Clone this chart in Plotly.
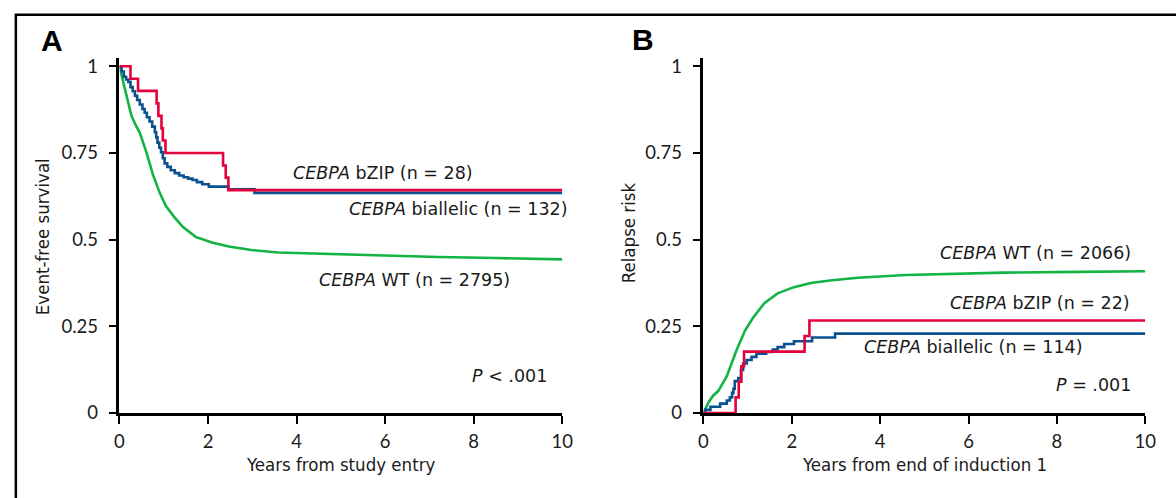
import plotly.graph_objects as go

W, H = 1176, 498

# ---------------- data ----------------
# Panel A: event-free survival
A_bzip_t = [0, 0.25, 0.42, 0.84, 0.88, 0.95, 0.98, 1.04, 2.34, 2.40, 2.46, 10]
A_bzip_s = [1.0, 0.964, 0.929, 0.893, 0.857, 0.821, 0.786, 0.75, 0.714, 0.679, 0.643, 0.643]

A_bi_t = [0, 0.05, 0.1, 0.15, 0.2, 0.25, 0.3, 0.35, 0.4, 0.46, 0.52, 0.57, 0.62, 0.68,
          0.74, 0.80, 0.83, 0.86, 0.9, 0.94, 0.98, 1.02, 1.08, 1.16, 1.25, 1.35, 1.45,
          1.55, 1.65, 1.75, 1.87, 2.02, 2.46, 3.05, 10]
A_bi_s = [1, 0.985, 0.97, 0.962, 0.955, 0.94, 0.928, 0.915, 0.903, 0.89, 0.877, 0.866,
          0.853, 0.841, 0.826, 0.81, 0.795, 0.78, 0.765, 0.752, 0.735, 0.72, 0.71, 0.70,
          0.692, 0.685, 0.68, 0.676, 0.672, 0.666, 0.66, 0.653, 0.645, 0.635, 0.635]

A_wt_t = [0, 0.05, 0.13, 0.2, 0.27, 0.35, 0.46, 0.61, 0.76, 0.91, 1.05, 1.24, 1.43,
          1.72, 2.09, 2.47, 2.98, 3.58, 4.32, 5.0, 6.0, 7.2, 8.5, 10]
A_wt_s = [1, 0.972, 0.935, 0.893, 0.858, 0.835, 0.808, 0.752, 0.686, 0.635, 0.597, 0.565,
          0.537, 0.508, 0.492, 0.48, 0.47, 0.463, 0.46, 0.457, 0.453, 0.45, 0.447, 0.443]

# Panel B: relapse risk
B_wt_t = [0, 0.12, 0.22, 0.34, 0.53, 0.75, 0.94, 1.12, 1.38, 1.68, 2.05, 2.43, 2.91,
          3.5, 4.58, 5.5, 6.81, 8.5, 10]
B_wt_s = [0, 0.031, 0.05, 0.064, 0.106, 0.181, 0.237, 0.274, 0.317, 0.345, 0.363, 0.375,
          0.383, 0.39, 0.398, 0.401, 0.405, 0.407, 0.409]

B_bzip_t = [0, 0.73, 0.80, 0.86, 0.92, 2.29, 2.40, 10]
B_bzip_s = [0, 0.045, 0.09, 0.135, 0.177, 0.222, 0.267, 0.267]

B_bi_t = [0, 0.04, 0.16, 0.38, 0.53, 0.60, 0.65, 0.68, 0.71, 0.79, 0.85, 0.9, 0.98, 1.09,
          1.2, 1.42, 1.57, 1.68, 1.83, 2.05, 2.46, 2.98, 10]
B_bi_s = [0, 0.009, 0.018, 0.027, 0.036, 0.045, 0.058, 0.07, 0.092, 0.101, 0.124, 0.143,
          0.153, 0.162, 0.171, 0.176, 0.183, 0.19, 0.199, 0.207, 0.218, 0.229, 0.229]

y_tickvals = [0, 0.25, 0.5, 0.75, 1]
y_ticktext = ["0", "0.25", "0.5", "0.75", "1"]
x_tickvals = [0, 2, 4, 6, 8, 10]

RED = "#E4003B"
BLUE = "#0A5190"
GREEN = "#12B443"

# ---------------- helpers: page pixel -> paper fraction ----------------
def px(x):
    return x / W

def py(y):
    return 1 - y / H

TICK_FONT = dict(family="Lato, Open Sans, sans-serif", size=18.5, color="#1a1a1a")
ANN_FONT = dict(family="DejaVu Sans, sans-serif", size=17.5, color="#1a1a1a")
TITLE_FONT = dict(family="Liberation Sans Narrow, DejaVu Sans Condensed, Roboto Condensed, Roboto, sans-serif",
                  size=18.5, color="#1a1a1a")

fig = go.Figure()

def add_step(t, s, color, xa, ya, shape="hv"):
    fig.add_trace(go.Scatter(x=t, y=s, mode="lines", xaxis=xa, yaxis=ya,
                             line=dict(color=color, width=2.6, shape=shape),
                             showlegend=False, hoverinfo="skip"))

add_step(A_wt_t, A_wt_s, GREEN, "x", "y", shape="linear")
add_step(A_bi_t, A_bi_s, BLUE, "x", "y")
add_step(A_bzip_t, A_bzip_s, RED, "x", "y")
add_step(B_wt_t, B_wt_s, GREEN, "x2", "y2", shape="linear")
add_step(B_bi_t, B_bi_s, BLUE, "x2", "y2")
add_step(B_bzip_t, B_bzip_s, RED, "x2", "y2")

ax_common = dict(showline=True, linecolor="black", linewidth=2.5, ticks="outside",
                 ticklen=8, tickwidth=2, tickcolor="black", showgrid=False,
                 zeroline=False, tickfont=TICK_FONT, layer="below traces",
                 fixedrange=True)

Y_BOT, Y_TOP = 421, 56.7
y_range = [0, (Y_BOT - Y_TOP) / (421 - 65)]

fig.update_layout(
    width=W, height=H,
    margin=dict(l=0, r=0, t=0, b=0),
    paper_bgcolor="white", plot_bgcolor="white",
    xaxis=dict(domain=[px(116), px(565)], range=[0, 10], tickvals=x_tickvals,
               anchor="y", ticklabelstandoff=2, **ax_common),
    yaxis=dict(domain=[py(Y_BOT), py(Y_TOP)], range=y_range, tickvals=y_tickvals,
               ticktext=y_ticktext, anchor="x", ticklabelstandoff=7, **ax_common),
    xaxis2=dict(domain=[px(708), px(1156)], range=[0, 10], tickvals=x_tickvals,
                anchor="y2", ticklabelstandoff=2, **ax_common),
    yaxis2=dict(domain=[py(Y_BOT), py(Y_TOP)], range=y_range, tickvals=y_tickvals,
                ticktext=y_ticktext, anchor="x2", ticklabelstandoff=7, **ax_common),
)

# frame (top and left edges visible, continuing past the page)
fig.add_shape(type="rect", xref="paper", yref="paper",
              x0=px(11), x1=1.05, y0=-0.05, y1=py(12),
              line=dict(color="black", width=2.5), fillcolor="rgba(0,0,0,0)")

anns = []
def ann(text, x, y, xref, yref, font, xanchor="center", yanchor="middle", angle=0):
    anns.append(dict(text=text, x=x, y=y, xref=xref, yref=yref, showarrow=False,
                     font=font, xanchor=xanchor, yanchor=yanchor, textangle=angle))

# panel letters
LET_FONT = dict(family="Liberation Sans, Arial, sans-serif", size=30, color="black", weight="bold")
ann("<b>A</b>", px(48), py(38), "paper", "paper", LET_FONT)
ann("<b>B</b>", px(647), py(37), "paper", "paper", LET_FONT)

# axis titles
ann("Years from study entry", px(340.5), py(474), "paper", "paper", TITLE_FONT)
ann("Years from end of induction 1", px(932), py(474), "paper", "paper", TITLE_FONT)
ann("Event-free survival", px(38), py(240), "paper", "paper", TITLE_FONT, angle=-90)
ann("Relapse risk", px(632), py(236), "paper", "paper", TITLE_FONT, angle=-90)

# curve labels
ann("<i>CEBPA</i> bZIP (n = 28)", 5.94, 0.691, "x", "y", ANN_FONT)
ann("<i>CEBPA</i> biallelic (n = 132)", 7.66, 0.588, "x", "y", ANN_FONT)
ann("<i>CEBPA</i> WT (n = 2795)", 6.66, 0.385, "x", "y", ANN_FONT)
ann("<i>P</i> &lt; .001", 9.69, 0.107, "x", "y", ANN_FONT, xanchor="right")

ann("<i>CEBPA</i> WT (n = 2066)", 9.72, 0.461, "x2", "y2", ANN_FONT, xanchor="right")
ann("<i>CEBPA</i> bZIP (n = 22)", 9.7, 0.317, "x2", "y2", ANN_FONT, xanchor="right")
ann("<i>CEBPA</i> biallelic (n = 114)", 8.64, 0.19, "x2", "y2", ANN_FONT, xanchor="right")
ann("<i>P</i> = .001", 9.72, 0.08, "x2", "y2", ANN_FONT, xanchor="right")

fig.update_layout(annotations=anns)

fig.write_html("out.html", config={"displayModeBar": False},
               post_script="document.body.style.margin='0px';"
                           "document.body.style.overflow='hidden';")
